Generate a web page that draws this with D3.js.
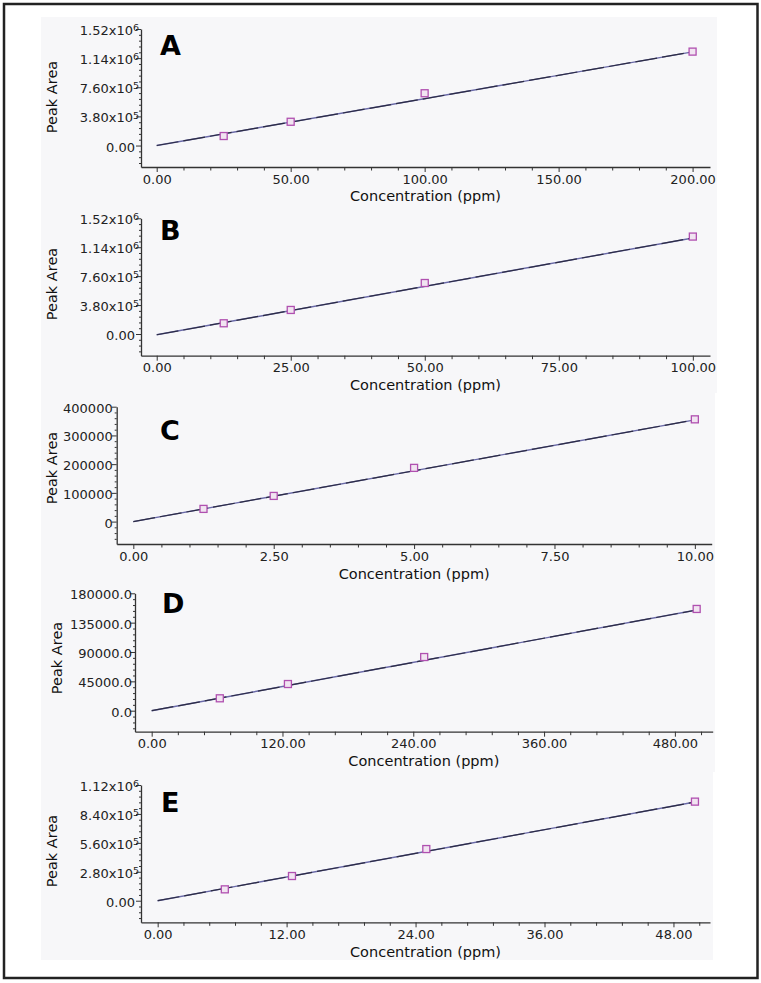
<!DOCTYPE html>
<html>
<head>
<meta charset="utf-8">
<script src="https://cdn.jsdelivr.net/npm/d3@7"></script>
<style>
  body { margin: 0; background: #fff; }
  svg { display: block; }
  .tick text { font-family: "DejaVu Sans", Verdana, sans-serif; fill: #222; }
</style>
</head>
<body>
<script>

// --------------------------------------------------
// Data
// --------------------------------------------------

const panelNames = ['A', 'B', 'C', 'D', 'E'];

// concentration (ppm) of the standards
const concA = [25, 50, 100, 200];
const concB = [12.5, 25, 50, 100];
const concC = [1.25, 2.5, 5, 10];
const concD = [62.5, 125, 250, 500];
const concE = [6.25, 12.5, 25, 50];

// peak areas of the standards
const areaA = [124000, 310000, 682000, 1225000];
const areaB = [141000, 316000, 670000, 1280000];
const areaC = [44200, 89400, 187000, 356000];
const areaD = [19000, 40900, 82300, 156000];
const areaE = [110000, 239000, 500000, 959000];

// calibration line, [start, end] as [conc, area]
const fitA = [[0, 0], [200, 1222000]];
const fitB = [[0, -10000], [100, 1262000]];
const fitC = [[0, 0], [10, 354000]];
const fitD = [[0, 0], [500, 154400]];
const fitE = [[0, 0], [50, 955000]];

// axis ticks
const xTicksA = [0, 50, 100, 150, 200];
const xTicksB = [0, 25, 50, 75, 100];
const xTicksC = [0, 2.5, 5, 7.5, 10];
const xTicksD = [0, 120, 240, 360, 480];
const xTicksE = [0, 12, 24, 36, 48];

const yTicksA = [0, 380000, 760000, 1140000, 1520000];
const yTicksB = [0, 380000, 760000, 1140000, 1520000];
const yTicksC = [0, 100000, 200000, 300000, 400000];
const yTicksD = [0, 45000, 90000, 135000, 180000];
const yTicksE = [0, 280000, 560000, 840000, 1120000];

const xTitle = 'Concentration (ppm)';
const yTitle = 'Peak Area';


// --------------------------------------------------
// Layout
// --------------------------------------------------

var panels = [
    { conc: concA, area: areaA, fit: fitA, xt: xTicksA, yt: yTicksA, xMinor: 10, yMinor: 76000, fmt: 'sci',
      left: 141, right: 710, top: 29, bottom: 167, xd: [-5.86, 206.5], yd: [-280000, 1520000],
      bg: [17, 205, 717], letter: [160, 55], yTitleAt: [57, 97], xTitleY: 201 },
    { conc: concB, area: areaB, fit: fitB, xt: xTicksB, yt: yTicksB, xMinor: 5, yMinor: 76000, fmt: 'sci',
      left: 141, right: 710, top: 218.3, bottom: 355.7, xd: [-2.93, 103.2], yd: [-285000, 1520000],
      bg: [205, 393, 717], letter: [160, 240], yTitleAt: [57, 284], xTitleY: 389.5 },
    { conc: concC, area: areaC, fit: fitC, xt: xTicksC, yt: yTicksC, xMinor: 0.5, yMinor: 20000, fmt: 'int',
      left: 116.7, right: 711.7, top: 406.7, bottom: 544, xd: [-0.296, 10.3], yd: [-78000, 400000],
      bg: [393, 583, 715], letter: [160, 440], yTitleAt: [57, 468], xTitleY: 579 },
    { conc: concD, area: areaD, fit: fitD, xt: xTicksD, yt: yTicksD, xMinor: 24, yMinor: 9000, fmt: 'fix1',
      left: 135, right: 712.7, top: 593.3, bottom: 731.7, xd: [-15.3, 514.7], yd: [-32200, 180000],
      bg: [583, 772, 715], letter: [162, 613], yTitleAt: [62, 658], xTitleY: 766 },
    { conc: concE, area: areaE, fit: fitE, xt: xTicksE, yt: yTicksE, xMinor: 2.4, yMinor: 56000, fmt: 'sci',
      left: 141, right: 710, top: 785, bottom: 922.3, xd: [-1.55, 51.4], yd: [-209000, 1120000],
      bg: [772, 960, 713], letter: [161, 811.5], yTitleAt: [57, 851], xTitleY: 956.5 }
];

var svg = d3.select('body').append('svg')
    .attr('width', 761)
    .attr('height', 983);

svg.append('rect')
    .attr('width', 761).attr('height', 983)
    .attr('fill', '#fff');

panels.forEach((p, i) => drawPanel(p, panelNames[i]));

// outer frame
svg.append('rect')
    .attr('x', 4).attr('y', 4)
    .attr('width', 753.5).attr('height', 974)
    .attr('fill', 'none')
    .attr('stroke', '#222')
    .attr('stroke-width', 2.5);


// --------------------------------------------------
// One calibration panel
// --------------------------------------------------

function drawPanel(p, name) {

    var g = svg.append('g');

    g.append('rect')
        .attr('x', 41).attr('y', p.bg[0])
        .attr('width', p.bg[2] - 41).attr('height', p.bg[1] - p.bg[0])
        .attr('fill', '#f7f7f9');

    var x = d3.scaleLinear().domain(p.xd).range([p.left, p.right]);
    var y = d3.scaleLinear().domain(p.yd).range([p.bottom, p.top]);

    // minor ticks
    var xm = d3.range(Math.ceil(p.xd[0] / p.xMinor) * p.xMinor, p.xd[1], p.xMinor)
        .filter(v => !p.xt.some(t => Math.abs(t - v) < 1e-6));
    var ym = d3.range(Math.ceil(p.yd[0] / p.yMinor) * p.yMinor, p.yd[1] + 1, p.yMinor)
        .filter(v => !p.yt.some(t => Math.abs(t - v) < 1e-6));

    g.append('g')
        .attr('transform', 'translate(0,' + p.bottom + ')')
        .call(d3.axisBottom(x).tickValues(xm).tickFormat('').tickSize(3.5).tickSizeOuter(0))
        .call(a => a.select('.domain').remove())
        .selectAll('line').attr('stroke', '#333');

    g.append('g')
        .attr('transform', 'translate(' + p.left + ',0)')
        .call(d3.axisLeft(y).tickValues(ym).tickFormat('').tickSize(2).tickSizeOuter(0))
        .call(a => a.select('.domain').remove())
        .selectAll('line').attr('stroke', '#333');

    // major axes
    var xAxis = g.append('g')
        .attr('transform', 'translate(0,' + p.bottom + ')')
        .call(d3.axisBottom(x).tickValues(p.xt).tickFormat(d3.format('.2f')).tickSize(5).tickSizeOuter(0));

    xAxis.select('.domain').attr('stroke', '#333').attr('stroke-width', 1.3);
    xAxis.selectAll('line').attr('stroke', '#333');
    xAxis.selectAll('text')
        .attr('y', 7)
        .attr('dy', '0.75em')
        .style('font-size', '13px');

    var yAxis = g.append('g')
        .attr('transform', 'translate(' + p.left + ',0)')
        .call(d3.axisLeft(y).tickValues(p.yt).tickSize(5).tickSizeOuter(0));

    yAxis.select('.domain').attr('stroke', '#333').attr('stroke-width', 1.3);
    yAxis.selectAll('line').attr('stroke', '#333');

    yAxis.selectAll('text')
        .style('font-size', '13px')
        .attr('dy', '0.42em')
        .each(function (d) {
            var t = d3.select(this).text(null);
            if (p.fmt == 'int') {
                t.attr('x', -4).text(d3.format('d')(d));
            } else if (p.fmt == 'fix1') {
                t.attr('x', -3).text(d3.format('.1f')(d));
            } else if (d == 0) {
                t.attr('x', -6).text('0.00');
            } else {
                var e = Math.floor(Math.log10(d));
                t.attr('x', -2);
                t.append('tspan').text((d / Math.pow(10, e)).toFixed(2) + 'x10');
                t.append('tspan')
                    .attr('dy', '-0.4em')
                    .style('font-size', '9.5px')
                    .text(e);
            }
        });

    // calibration line
    var line = d3.line().x(d => x(d[0])).y(d => y(d[1]));

    g.append('path')
        .datum(p.fit)
        .attr('d', line)
        .attr('fill', 'none')
        .attr('stroke', '#6a6aa8')
        .attr('stroke-width', 1.4);

    g.append('path')
        .datum(p.fit)
        .attr('d', line)
        .attr('fill', 'none')
        .attr('stroke', '#2c2c44')
        .attr('stroke-width', 1.2)
        .attr('stroke-dasharray', '22,5');

    // standards
    g.selectAll('.std')
        .data(p.conc.map((c, k) => [c, p.area[k]]))
        .enter().append('rect')
        .attr('class', 'std')
        .attr('x', d => x(d[0]) - 3.5)
        .attr('y', d => y(d[1]) - 3.5)
        .attr('width', 7)
        .attr('height', 7)
        .attr('fill', '#f1e4f1')
        .attr('stroke', '#b050b0')
        .attr('stroke-width', 1.3);

    // titles
    g.append('text')
        .attr('x', (p.left + p.right) / 2)
        .attr('y', p.xTitleY)
        .attr('text-anchor', 'middle')
        .style('font-family', '"DejaVu Sans", Verdana, sans-serif')
        .style('font-size', '14.5px')
        .attr('fill', '#111')
        .text(xTitle);

    g.append('text')
        .attr('transform', 'translate(' + p.yTitleAt[0] + ',' + p.yTitleAt[1] + ') rotate(-90)')
        .attr('text-anchor', 'middle')
        .style('font-family', '"DejaVu Sans", Verdana, sans-serif')
        .style('font-size', '14.5px')
        .attr('fill', '#111')
        .text(yTitle);

    g.append('text')
        .attr('x', p.letter[0])
        .attr('y', p.letter[1])
        .style('font-family', '"DejaVu Sans", Verdana, sans-serif')
        .style('font-size', '27px')
        .style('font-weight', 'bold')
        .attr('fill', '#000')
        .text(name);
}

</script>
</body>
</html>
